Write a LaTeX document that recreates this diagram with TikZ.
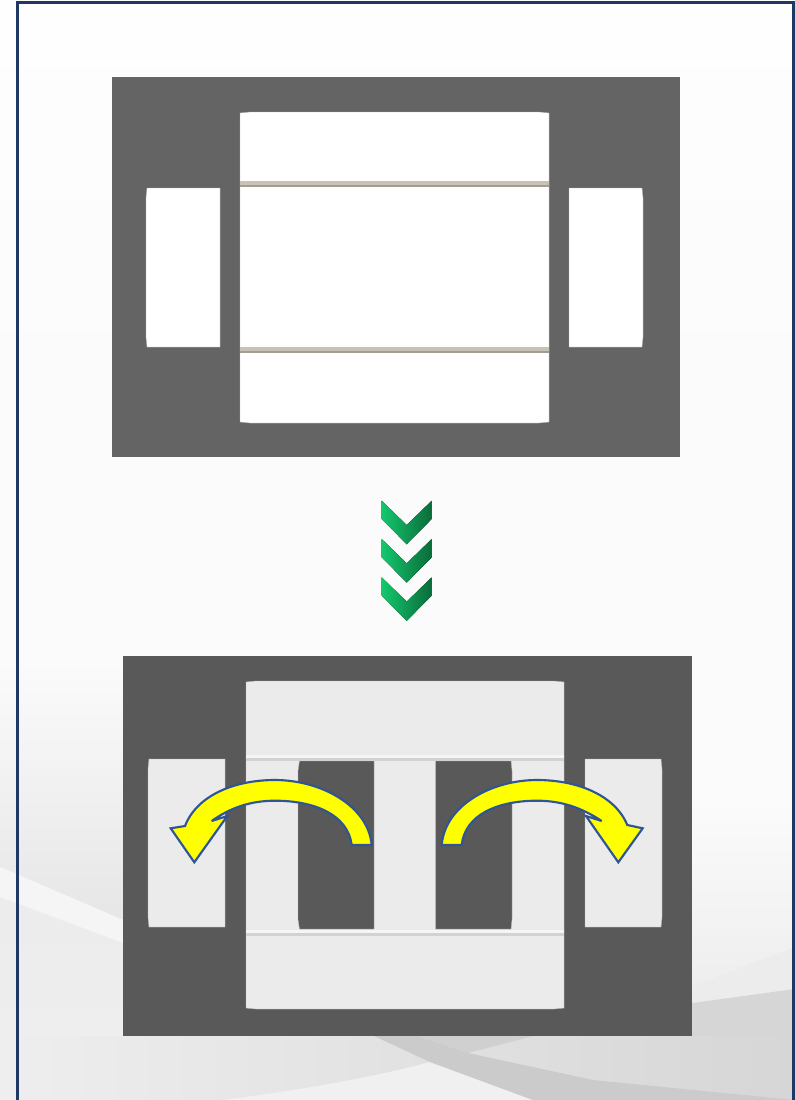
\documentclass[tikz,border=0pt]{standalone}
\usepackage{xcolor}
\usetikzlibrary{calc}
\definecolor{frameblue}{HTML}{1F3864}
\definecolor{arrowblue}{HTML}{2F5597}
\definecolor{arrowfill}{HTML}{FFFF00}
\definecolor{chevlight}{HTML}{13C76C}
\definecolor{chevdark}{HTML}{0A6B3A}
\definecolor{paneltop}{HTML}{646464}
\definecolor{panelbot}{HTML}{595959}
\definecolor{softwhite}{HTML}{EBEBEB}
\definecolor{creasea}{HTML}{C8C2B6}
\definecolor{creaseb}{HTML}{A39C92}
\definecolor{creasec}{HTML}{F5F5F5}
\definecolor{creased}{HTML}{D2D2D2}
\definecolor{bga}{HTML}{FEFEFE}
\definecolor{bgb}{HTML}{FBFBFB}
\definecolor{bgc}{HTML}{E6E6E6}
\definecolor{bgd}{HTML}{EEEEEE}
\definecolor{bge}{HTML}{D6D6D6}
\begin{document}
\begin{tikzpicture}[
    x=0.75pt, y=-0.75pt,
    flat/.style={fill=#1, draw=none},
    piecetop/.style={fill=white, draw=gray!60, line width=0.25pt},
    piecebot/.style={fill=softwhite, draw=gray!55, line width=0.3pt},
    hole/.style={fill=panelbot, draw=gray!60, line width=0.3pt},
    chevron/.style={left color=chevlight, right color=chevdark, draw=none},
    curlarrow/.style={fill=arrowfill, draw=arrowblue, line width=1.6pt, line join=miter, miter limit=6}
]
\useasboundingbox (0,0) rectangle (794,1100);

% background
\shade[top color=bga, bottom color=bgb] (0,0) rectangle (794,400);
\fill[flat=bgb] (0,400) rectangle (794,1100);
\shade[top color=bgb, bottom color=bgc] (0,660) -- (123,660) -- (123,920) -- (0,867) -- cycle;
\fill[flat=creasec] (0,867) -- (123,920) -- (123,943) -- (0,897) -- cycle;
\shade[top color=bgd!70!bgc, bottom color=bgd] (0,897) -- (123,943) -- (123,1036) -- (0,1036) -- cycle;
\shade[left color=bgd, right color=bge] (0,1036) rectangle (794,1100);
\fill[flat=bgd!90!white] (223,1100) .. controls (300,1090) and (370,1078) .. (430,1062) -- (533,1100) -- cycle;
\fill[flat=bge!97!black] (417,1036) -- (468,1053) -- (533,1036) -- cycle;
\fill[flat=bge!95!black] (374,1036) -- (417,1036) -- (468,1053) -- (593,1080) -- (794,1100) -- (533,1100) -- (430,1062) -- cycle;
\shade[top color=bgb, bottom color=bgd] (692,800) -- (794,800) -- (794,947) -- (692,986) -- cycle;
\fill[flat=bgd!90!bge] (692,986) -- (794,947) -- (794,989) -- (692,1003) -- cycle;
\fill[flat=bge] (692,1003) -- (794,989) -- (794,1036) -- (692,1036) -- cycle;

% frame
\draw[frameblue, line width=2.1pt] (17.5,1104) -- (17.5,2.8) -- (793.2,2.8) -- (793.2,1104);

% top panel
\fill[flat=paneltop] (112,77) rectangle (680,457);
\draw[piecetop] (240,113) -- (250,112) -- (539,112) -- (549,113) -- (549,422) -- (539,423) -- (250,423) -- (240,422) -- cycle;
\draw[piecetop] (147,188) -- (220,188) -- (220,347) -- (147,347) -- (146,337) -- (146,198) -- cycle;
\draw[piecetop] (569,188) -- (642,188) -- (643,198) -- (643,337) -- (642,347) -- (569,347) -- cycle;
\foreach \ypos in {181,347} {
    \fill[flat=creasea] (240,\ypos) rectangle (549,\ypos+3.5);
    \fill[flat=creaseb] (240,\ypos+3.5) rectangle (549,\ypos+6);
}

% chevrons
\foreach \ypos in {0,38.3,76.6} {
    \fill[chevron] (381.7,500.7+\ypos) -- (406.7,525+\ypos) -- (431.7,500.7+\ypos) -- (431.7,519+\ypos) -- (406.7,544.3+\ypos) -- (381.7,519+\ypos) -- cycle;
}

% bottom panel
\fill[flat=panelbot] (123,656) rectangle (692,1036);
\draw[piecebot] (246,682) -- (256,681) -- (554,681) -- (564,682) -- (564,1008) -- (554,1009) -- (256,1009) -- (246,1008) -- cycle;
\draw[piecebot] (149,759) -- (225,759) -- (225,927) -- (149,927) -- (148,917) -- (148,769) -- cycle;
\draw[piecebot] (585,759) -- (661,759) -- (662,769) -- (662,917) -- (661,927) -- (585,927) -- cycle;
\draw[hole] (299.5,761) -- (374,761) -- (374,929) -- (299.5,929) -- (298,919) -- (298,771) -- cycle;
\draw[hole] (435.5,761) -- (511,761) -- (512,771) -- (512,919) -- (511,929) -- (435.5,929) -- cycle;
\foreach \ypos in {754.5,930} {
    \fill[flat=creasec] (246,\ypos) rectangle (564,\ypos+3);
    \fill[flat=creased] (246,\ypos+3) rectangle (564,\ypos+6);
}

% arrows
\draw[curlarrow] (371.7,845) .. controls (368,805) and (320,780) .. (275,780) .. controls (235,780) and (197,795) .. (185,826) -- (170.7,828.3) -- (194.3,862.3) -- (227.3,816) -- (211.7,821) .. controls (230,808) and (250,800.7) .. (275,800.7) .. controls (315,800.7) and (348,815) .. (351.7,845) -- cycle;
\draw[curlarrow] (441.7,845) .. controls (445,805) and (492,780) .. (537,780) .. controls (577,780) and (615,795) .. (627.3,825) -- (642.7,828.3) -- (618.3,862.3) -- (586,816) -- (601.7,821) .. controls (582,808) and (562,800.7) .. (537,800.7) .. controls (497,800.7) and (465,815) .. (461.7,845) -- cycle;
\end{tikzpicture}
\end{document}
